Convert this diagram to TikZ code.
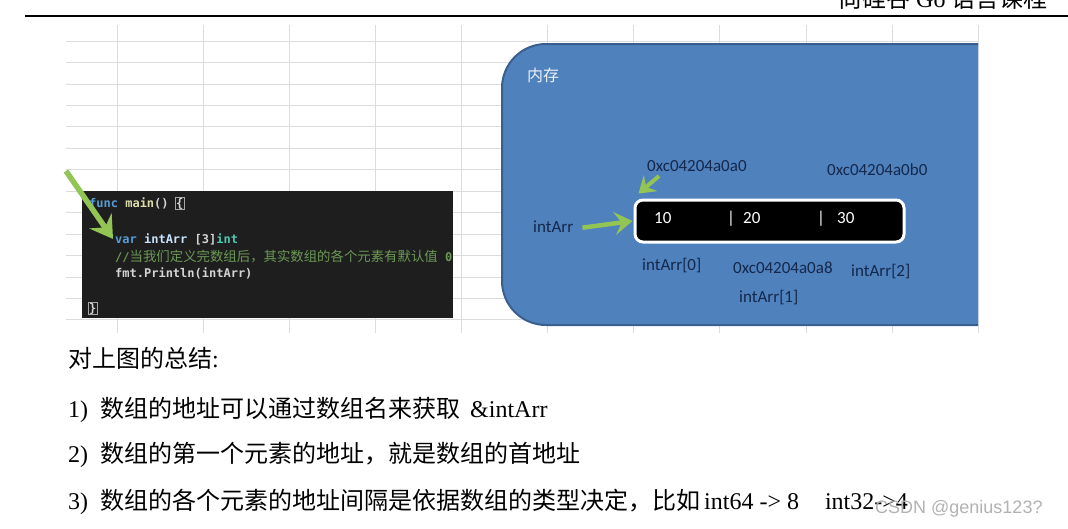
\documentclass[tikz,border=0pt]{standalone}
\usepackage{fontspec}
\setmainfont{Liberation Serif}
\newfontfamily\cjk{Noto Sans CJK SC}
\newfontfamily\calib{Carlito}
\newfontfamily\codefont{DejaVu Sans Mono}
\newfontfamily\wmfont{Liberation Sans}
\usetikzlibrary{arrows.meta}
\definecolor{gridc}{HTML}{DADCE0}
\definecolor{memblue}{HTML}{4F81BD}
\definecolor{memedge}{HTML}{3A5F8E}
\definecolor{navy}{HTML}{14284B}
\definecolor{agreen}{HTML}{92C553}
\definecolor{codebg}{HTML}{1E1E1E}
\definecolor{kw}{HTML}{569CD6}
\definecolor{fn}{HTML}{DCDCAA}
\definecolor{txt}{HTML}{D4D4D4}
\definecolor{varc}{HTML}{C8E4FF}
\definecolor{typ}{HTML}{4EC9B0}
\definecolor{cmt}{HTML}{6A9955}
\begin{document}
\begin{tikzpicture}[x=1pt,y=-1pt,
  lbl/.style={inner sep=0pt, anchor=base west},
  memlbl/.style={lbl, text=navy, font=\calib\fontsize{17}{20}\selectfont},
  celltxt/.style={lbl, text=white, font=\calib\fontsize{17}{20}\selectfont},
  code/.style={lbl, font=\codefont\bfseries\fontsize{12}{14}\selectfont},
  body/.style={lbl, font=\fontsize{24}{28}\selectfont},
  garrow/.style={draw=agreen, line width=5.5pt, -{Stealth[length=22pt,width=27pt,inset=8pt]}},
  garrowb/.style={draw=agreen, line width=4.5pt, -{Stealth[length=18pt,width=23pt,inset=7pt]}},
  garrowc/.style={draw=agreen, line width=4pt, -{Stealth[length=16pt,width=21pt,inset=6pt]}},
]
\useasboundingbox (0,0) rectangle (1068,528);
\fill[white] (0,0) rectangle (1068,528);

% header
\node[lbl, font=\fontsize{24}{28}\selectfont] (hdr) at (838,7) {{\cjk 尚硅谷} Go {\cjk 语言课程}};
\draw[line width=2pt] (25,16) -- (1068,16);

% grid
\foreach \i in {0,...,13} \draw[gridc, line width=0.8pt] (66,41+21.45*\i) -- (978,41+21.45*\i);
\foreach \x in {117,203,289,375,461,547,633,719,806,892,978} \draw[gridc, line width=0.8pt] (\x,25) -- (\x,333);

% code block
\node[fill=codebg, minimum width=371pt, minimum height=127pt, anchor=north west, inner sep=0pt] (codebox) at (82,191) {};
\begin{scope}
\clip (82,191) rectangle (453,318);
\node[code, text=txt] (l1) at (89,207) {\textcolor{kw}{func} \textcolor{fn}{main}()};
\node[code, text=txt, draw=gray!70, line width=0.6pt, inner sep=0.8pt] (ob) at (175,207) {\{};
\node[code] (l2) at (115,243) {\textcolor{kw}{var} \textcolor{varc}{intArr} \textcolor{txt}{[3]}\textcolor{typ}{int}};
\node[lbl, text=cmt] (l3) at (115,261) {{\codefont\bfseries\fontsize{12}{14}\selectfont //}{\cjk\fontsize{13.4}{16}\selectfont 当我们定义完数组后，其实数组的各个元素有默认值}{\codefont\bfseries\fontsize{12}{14}\selectfont\ 0}};
\node[code, text=txt] (l4) at (115,277) {fmt.Println(intArr)};
\node[code, text=txt, draw=gray!70, line width=0.6pt, inner sep=0.8pt] (l5) at (88,312) {\}};
\end{scope}
\coordinate (a1s) at (66,171);
\draw[garrow] (a1s) -- ([xshift=-2pt]l2.west);

% memory block
\begin{scope}
\clip (0,0) rectangle (978,528);
\node[fill=memblue, draw=memedge, line width=2pt, rounded corners=44pt, minimum width=529pt, minimum height=281pt, anchor=north west, inner sep=0pt] (mem) at (501,43) {};
\end{scope}
\node[lbl, text=white!88!memblue, font=\cjk\fontsize{16}{18}\selectfont] (memlbl) at (527,81) {内存};

\node[fill=black, draw=white, line width=3pt, rounded corners=8pt, minimum width=269pt, minimum height=42pt, anchor=north west, inner sep=0pt] (arr) at (633.5,198.5) {};
\node[celltxt] (v0) at (654,223.4) {10};
\node[celltxt] (b1) at (727,223.4) {|};
\node[celltxt] (v1) at (743,223.4) {20};
\node[celltxt] (b2) at (817,223.4) {|};
\node[celltxt] (v2) at (837,223.4) {30};

\node[memlbl] (addr0) at (647,171.4) {0xc04204a0a0};
\node[memlbl] (addr2) at (827,175.4) {0xc04204a0b0};
\node[memlbl] (name) at (533,232.5) {intArr};
\node[memlbl] (e0) at (642,270) {intArr[0]};
\node[memlbl] (addr1) at (733,273.4) {0xc04204a0a8};
\node[memlbl] (e2) at (851,276) {intArr[2]};
\node[memlbl] (e1) at (739,302) {intArr[1]};

\draw[garrowb] ([xshift=9pt,yshift=-1pt]name.east) -- ([xshift=-1pt]arr.west);
\coordinate (a3s) at (659,176);
\draw[garrowc] (a3s) -- ([shift={(5,-5)}]arr.north west);

% summary text
\node[body] (sum) at (68,367) {{\cjk 对上图的总结}:};
\node[body] (p1) at (68,417) {1)\hspace{12pt}{\cjk 数组的地址可以通过数组名来获取}\hspace{10pt}\&intArr};
\node[body] (p2) at (68,462) {2)\hspace{12pt}{\cjk 数组的第一个元素的地址，就是数组的首地址}};
\node[body] (p3) at (68,509) {3)\hspace{12pt}{\cjk 数组的各个元素的地址间隔是依据数组的类型决定，比如}\hspace{4pt}int64 -> 8\hspace{26pt}int32->4};
\node[lbl, text=gray!60, font=\wmfont\fontsize{18}{20}\selectfont] (wm) at (875,513.5) {CSDN @genius123?};
\end{tikzpicture}
\end{document}
